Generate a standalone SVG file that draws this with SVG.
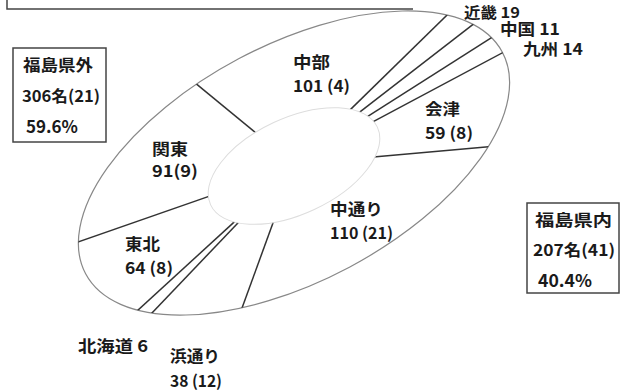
<svg xmlns="http://www.w3.org/2000/svg" width="629" height="391" viewBox="0 0 629 391">
<style>
.t{font-family:"Noto Sans CJK JP","Noto Sans",sans-serif;font-weight:bold;font-size:16px;fill:#1a1a1a}
.p{font-size:17px}
.box{fill:none;stroke:#444;stroke-width:1.5}
.div{stroke:#333;stroke-width:1.5;fill:none}
</style>
<defs>
<clipPath id="outerClip"><ellipse cx="294" cy="163" rx="236" ry="118" transform="rotate(-28 294 163)"/></clipPath>
</defs>
<rect width="629" height="391" fill="#fff"/>
<path d="M7,0 V9 H413" class="box"/>
<g id="ring">
<ellipse cx="294" cy="163" rx="236" ry="118" transform="rotate(-28 294 163)" fill="#fff" stroke="#888" stroke-width="1.2"/>
</g>
<g id="connectors" clip-path="url(#outerClip)">
<line class="div" x1="262.2" y1="138.1" x2="192.3" y2="80.7"/>
<line class="div" x1="214.6" y1="194.4" x2="68.6" y2="245.3"/>
<line class="div" x1="237.9" y1="218.6" x2="129.6" y2="317.8"/>
<line class="div" x1="241.5" y1="219.2" x2="145.1" y2="320.2"/>
<line class="div" x1="275.7" y1="215.5" x2="238.6" y2="317.4"/>
<line class="div" x1="365" y1="157.7" x2="497" y2="146.1"/>
<line class="div" x1="370.9" y1="122.8" x2="510.8" y2="48.3"/>
<line class="div" x1="366.2" y1="117.3" x2="499.4" y2="32.6"/>
<line class="div" x1="358.7" y1="112.9" x2="478.9" y2="19.9"/>
<line class="div" x1="349.3" y1="110.6" x2="452.2" y2="10"/>
</g>
<g id="hub">
<ellipse cx="294" cy="166" rx="92" ry="48" transform="rotate(-25 294 166)" fill="#fff" stroke="#ddd" stroke-width="1"/>
</g>
<g id="chubu"><text class="t" x="293" y="68" textLength="37" lengthAdjust="spacingAndGlyphs">中部</text><text class="t" x="293" y="92" textLength="57" lengthAdjust="spacingAndGlyphs">101 (4)</text></g>
<g id="aizu"><text class="t" x="425" y="115" textLength="35" lengthAdjust="spacingAndGlyphs">会津</text><text class="t" x="425" y="139" textLength="48" lengthAdjust="spacingAndGlyphs">59 (8)</text></g>
<g id="kanto"><text class="t" x="152" y="155" textLength="36" lengthAdjust="spacingAndGlyphs">関東</text><text class="t" x="152" y="177" textLength="46" lengthAdjust="spacingAndGlyphs">91(9)</text></g>
<g id="tohoku"><text class="t" x="125" y="250" textLength="35" lengthAdjust="spacingAndGlyphs">東北</text><text class="t" x="125" y="274" textLength="48" lengthAdjust="spacingAndGlyphs">64 (8)</text></g>
<g id="nakadori"><text class="t" x="330" y="215" textLength="53" lengthAdjust="spacingAndGlyphs">中通り</text><text class="t" x="330" y="239" textLength="63" lengthAdjust="spacingAndGlyphs">110 (21)</text></g>
<g id="hokkaido"><text class="t" x="78" y="352" textLength="70" lengthAdjust="spacingAndGlyphs">北海道 6</text></g>
<g id="hamadori"><text class="t" x="170" y="362" textLength="50" lengthAdjust="spacingAndGlyphs">浜通り</text><text class="t" x="170" y="387" textLength="52" lengthAdjust="spacingAndGlyphs">38 (12)</text></g>
<g id="kinki"><text class="t" x="464" y="18" font-size="15" style="font-size:15px" textLength="56" lengthAdjust="spacingAndGlyphs">近畿 19</text></g>
<g id="chugoku"><text class="t" x="500" y="35" textLength="60" lengthAdjust="spacingAndGlyphs">中国 11</text></g>
<g id="kyushu"><text class="t" x="523" y="55" textLength="60" lengthAdjust="spacingAndGlyphs">九州 14</text></g>
<g id="outside">
<rect class="box" x="13" y="48" width="93" height="94"/>
<text class="t" x="23" y="71" textLength="70" lengthAdjust="spacingAndGlyphs">福島県外</text>
<text class="t" x="22" y="102" textLength="78" lengthAdjust="spacingAndGlyphs">306名(21)</text>
<text class="t p" x="26" y="133" textLength="52" lengthAdjust="spacingAndGlyphs">59.6%</text>
</g>
<g id="inside">
<rect class="box" x="527" y="203" width="92" height="90"/>
<text class="t" x="535" y="226" textLength="77" lengthAdjust="spacingAndGlyphs">福島県内</text>
<text class="t" x="533" y="256" textLength="82" lengthAdjust="spacingAndGlyphs">207名(41)</text>
<text class="t p" x="538" y="287" textLength="54" lengthAdjust="spacingAndGlyphs">40.4%</text>
</g>
</svg>
